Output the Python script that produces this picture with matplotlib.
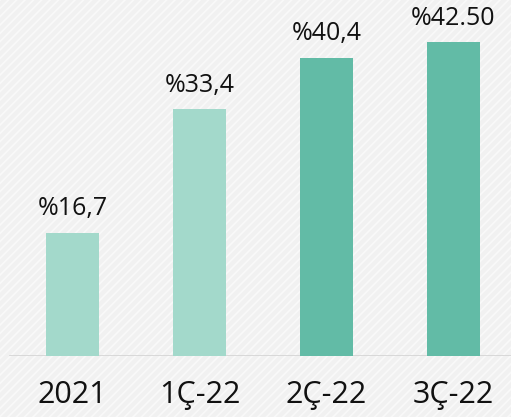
import matplotlib.pyplot as plt
from matplotlib.patches import Rectangle

categories = ['2021', '1Ç-22', '2Ç-22', '3Ç-22']
values = [16.7, 33.4, 40.4, 42.5]
labels = ['%16,7', '%33,4', '%40,4', '%42.50']
colors = ['#a3d9cb', '#a3d9cb', '#62bba6', '#62bba6']

plt.rcParams['font.family'] = ['Open Sans', 'DejaVu Sans']
plt.rcParams['hatch.linewidth'] = 1.2

fig = plt.figure(figsize=(5.11, 4.17), dpi=100)
bg = Rectangle((0, 0), 1, 1, transform=fig.transFigure, facecolor='#f1f1f1',
               edgecolor='#f9f9f9', hatch='////', linewidth=0, zorder=-10)
fig.patches.append(bg)

ax = fig.add_axes([0, 61 / 417, 1, 356 / 417])
ax.set_facecolor('none')
ax.set_xlim(-0.571, 3.453)
ax.set_ylim(0, 48.2)

x = range(len(categories))
ax.bar(x, values, width=0.417, color=colors, zorder=3)
ax.axhline(0, xmin=10 / 511, xmax=1, color='#d6d6d6', linewidth=2, zorder=2)

for i, v in enumerate(values):
    ax.annotate(labels[i], (i, v), xytext=(0, 12.5), textcoords='offset points',
                ha='center', va='baseline', fontsize=18, color='#111111')
    ax.annotate(categories[i], (i, 0), xytext=(0, -34), textcoords='offset points',
                ha='center', va='baseline', fontsize=22, color='#111111')

ax.axis('off')
fig.savefig('out.png', dpi=100)
